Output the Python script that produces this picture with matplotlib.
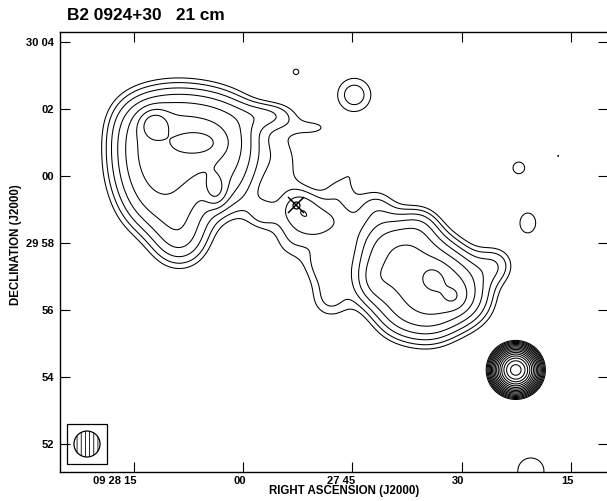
import numpy as np
import matplotlib
matplotlib.use('Agg')
import matplotlib.pyplot as plt
from matplotlib.patches import Ellipse, Rectangle
import matplotlib.transforms as mtransforms

plt.rcParams['font.family'] = ['Liberation Sans', 'DejaVu Sans']

title = "B2 0924+30   21 cm"
xlabel = "RIGHT ASCENSION (J2000)"
ylabel = "DECLINATION (J2000)"

# RA axis: seconds after 09h27m ; Dec axis: arcmin after +29 deg
ra_ticks = [75, 60, 45, 30, 15]
ra_ticklabels = ["09 28 15", "00", "27 45", "30", "15"]
dec_ticks = [64, 62, 60, 58, 56, 54, 52]
dec_ticklabels = ["30 04", "02", "00", "29 58", "56", "54", "52"]

# core position (marked with a cross)
core_ra = 52.74
core_dec = 59.13

# source model: Gaussian components, offsets from the core in arcsec (east, north),
# peak brightness in units of the lowest contour, sigma (arcsec) east-west / north-south
# north-east lobe
ne_east = [279.4, 225.7, 171.9, 118.2, 279.4, 225.7, 171.9, 114.6, 279.4, 225.7, 171.9,
           261.5, 204.2, 207.8, 118.2, 252.5, 180.9, 143.3, 46.6, -35.8]
ne_north = [150.4, 163.0, 159.4, 145.1, 98.5, 102.1, 102.1, 89.6, 48.4, 48.4, 44.8,
            -3.6, -12.5, -66.3, 26.9, 143.3, 111.0, 26.9, 161.2, 137.9]
ne_peak = [2.3, 2.3, 2.3, 2.3, 2.3, 2.3, 2.3, 2.3, 2.0, 2.0, 1.6,
           2.0, 2.0, 2.2, 1.6, 5.0, 4.0, 2.8, 1.5, 0.95]
ne_sx = [39.4] * 13 + [35.8, 39.4, 16.1, 25.1, 12.5, 35.8, 28.7]
ne_sy = [39.4] * 13 + [35.8, 39.4, 16.1, 12.5, 17.9, 17.9, 14.3]
# core and bridge
br_east = [60.9, -10.7, -69.8, -7.2, -32.2, 19.7, -78.8, -100.3, 10.7]
br_north = [-17.9, -17.9, -30.4, -5.4, -35.8, 80.6, 30.4, 62.7, -71.6]
br_peak = [1.1, 1.5, 1.35, 1.0, 0.5, 1.0, 0.9, 0.6, 0.8]
br_sx = [21.5, 35.8, 28.7, 21.5, 17.9, 28.7, 23.3, 16.1, 28.7]
br_sy = [21.5, 35.8, 28.7, 21.5, 17.9, 50.1, 23.3, 16.1, 28.7]
# south-west lobe
sw_east = [-150.4, -195.2, -240.0, -284.8, -150.4, -204.2, -257.9, -302.7, -186.3, -240.0,
           -243.6, -281.2, -141.5, -222.1, -51.9, -60.9, -356.4, -136.1]
sw_north = [-71.6, -68.1, -94.9, -125.4, -134.3, -134.3, -161.2, -170.1, -191.6, -202.4,
            -130.7, -164.8, 0.0, -35.8, -107.5, -170.1, -107.5, -134.3]
sw_peak = [2.5] * 10 + [2.2, 1.8, 1.2, 1.2, 1.6, 1.4, 1.6, 1.2]
sw_sx = [35.8] * 10 + [16.1, 14.3, 26.9, 25.1, 28.7, 28.7, 25.1, 21.5]
sw_sy = [35.8] * 10 + [16.1, 14.3, 26.9, 25.1, 28.7, 28.7, 25.1, 28.7]
# compact and faint field sources
pt_east = [-392.2, 0.0, -103.9, -397.6, -413.7, -467.5, -419.1]
pt_north = [-295.5, 238.2, 197.0, 66.3, -32.2, 87.8, -476.4]
pt_peak = [215.0, 1.15, 1.7, 1.3, 1.4, 1.03, 1.3]
pt_sx = [16.1, 9.0, 28.7, 14.3, 17.0, 4.5, 32.2]
pt_sy = [16.1, 9.0, 28.7, 14.3, 21.5, 4.5, 32.2]

# contour levels: lowest contour times powers of sqrt(2)
contour_levels = [2 ** (k / 2) for k in range(18)]

# restoring beam (circular), FWHM in arcsec
beam_fwhm = 46.5

fig = plt.figure(figsize=(6.07, 5.01), dpi=100)
ax = fig.add_axes([60 / 607, 29 / 501, 548.2 / 607, 440 / 501])
ra_min, ra_max = 9.86, 85.16
dec_min, dec_max = 51.16, 64.29

ra = np.linspace(ra_min, ra_max, 560)
dec = np.linspace(dec_min, dec_max, 440)
RA, DEC = np.meshgrid(ra, dec)
cosd = np.cos(np.deg2rad(29 + core_dec / 60))
E = (RA - core_ra) * 15 * cosd
N = (DEC - core_dec) * 60
img = np.zeros_like(RA)
groups = [(ne_east, ne_north, ne_peak, ne_sx, ne_sy),
          (br_east, br_north, br_peak, br_sx, br_sy),
          (sw_east, sw_north, sw_peak, sw_sx, sw_sy),
          (pt_east, pt_north, pt_peak, pt_sx, pt_sy)]
for ge, gn, gp, gx, gy in groups:
    for e, n, a, sx, sy in zip(ge, gn, gp, gx, gy):
        img += a * np.exp(-0.5 * (((E - e) / sx) ** 2 + ((N - n) / sy) ** 2))

ax.contour(RA, DEC, img, levels=contour_levels, colors='black', linewidths=0.75)

ax.plot([core_ra], [core_dec], marker='x', ms=12, mew=1.1, color='black', ls='none')
ax.plot([core_ra], [core_dec], marker='o', ms=5, mew=0.9, mfc='none', color='black', ls='none')

# beam box in lower-left corner
box_ra = [84.20, 78.70]
box_dec = [51.40, 52.59]
ax.add_patch(Rectangle((box_ra[0], box_dec[0]), box_ra[1] - box_ra[0], box_dec[1] - box_dec[0],
                       fill=False, lw=0.9, ec='black'))
plt.rcParams['hatch.linewidth'] = 0.6
bc_ra = (box_ra[0] + box_ra[1]) / 2
bc_dec = (box_dec[0] + box_dec[1]) / 2
ax.add_patch(Ellipse((bc_ra, bc_dec), beam_fwhm / (15 * cosd), beam_fwhm / 60,
                     fill=False, ec='black', lw=0.9, hatch='||||'))

ax.set_xlim(ra_max, ra_min)
ax.set_ylim(dec_min, dec_max)
ax.set_xticks(ra_ticks)
ax.set_xticklabels(ra_ticklabels, fontweight='bold', fontsize=8, ha='right')
ax.set_yticks(dec_ticks)
ax.set_yticklabels(dec_ticklabels, fontweight='bold', fontsize=8)
ax.tick_params(direction='in', length=7.5, width=0.8, top=True, right=True)
ax.tick_params(axis='x', pad=3)
ax.tick_params(axis='y', pad=4)
off = mtransforms.ScaledTranslation(2.5 / 100, 0, fig.dpi_scale_trans)
for lab in ax.get_xticklabels():
    lab.set_transform(lab.get_transform() + off)
for sp in ax.spines.values():
    sp.set_linewidth(1.0)

fig.text(344 / 607, 1 - 491 / 501, xlabel, ha='center', va='center', fontsize=8.3, fontweight='bold')
fig.text(16 / 607, 1 - 245 / 501, ylabel, ha='center', va='center', rotation=90, fontsize=8.3, fontweight='bold')
fig.text(67 / 607, 1 - 15 / 501, title, ha='left', va='center', fontsize=12.4, fontweight='bold')

fig.savefig('out.png', dpi=100)
